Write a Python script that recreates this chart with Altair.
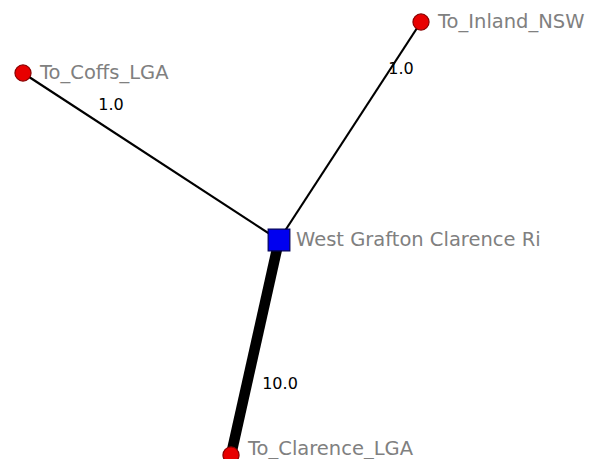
import altair as alt
import pandas as pd

# Network layout (layout coordinates, y grows downward)
node_names = ["To_Coffs_LGA", "To_Inland_NSW", "West Grafton Clarence Ri", "To_Clarence_LGA"]
node_x = [23, 421, 279, 231]
node_y = [73, 22, 240, 455]
node_kind = ["outlet", "outlet", "hub", "outlet"]

edge_source = ["West Grafton Clarence Ri", "West Grafton Clarence Ri", "West Grafton Clarence Ri"]
edge_target = ["To_Coffs_LGA", "To_Inland_NSW", "To_Clarence_LGA"]
edge_weight = [1.0, 1.0, 10.0]
edge_label_x = [111, 401, 280]
edge_label_y = [105, 69, 384]

pos = {n: (x, y) for n, x, y in zip(node_names, node_x, node_y)}
nodes = pd.DataFrame({"name": node_names, "x": node_x, "y": node_y, "kind": node_kind})
edges = pd.DataFrame({
    "x": [pos[s][0] for s in edge_source],
    "y": [pos[s][1] for s in edge_source],
    "x2": [pos[t][0] for t in edge_target],
    "y2": [pos[t][1] for t in edge_target],
    "weight": edge_weight,
    "lx": edge_label_x,
    "ly": edge_label_y,
    "label": [f"{w:.1f}" for w in edge_weight],
})

xs = alt.Scale(domain=[8, 595], nice=False, zero=False)
ys = alt.Scale(domain=[8, 459], nice=False, zero=False, reverse=True)
X = lambda f: alt.X(f, type="quantitative", scale=xs, axis=None)
Y = lambda f: alt.Y(f, type="quantitative", scale=ys, axis=None)

edge_lines = alt.Chart(edges).mark_rule(color="black", strokeCap="butt").encode(
    x=X("x"), y=Y("y"), x2="x2", y2="y2",
    strokeWidth=alt.StrokeWidth("weight:Q", scale=alt.Scale(domain=[1, 10], range=[2.2, 10.5]), legend=None),
)

edge_text = alt.Chart(edges).mark_text(
    font="DejaVu Sans", fontSize=16, color="black", align="center", baseline="middle"
).encode(x=X("lx"), y=Y("ly"), text="label:N")

outlets = alt.Chart(nodes).transform_filter("datum.kind == 'outlet'").mark_point(
    shape="circle", filled=True, size=260, fill="#e80000", stroke="#8a0000", strokeWidth=1.2, opacity=1
).encode(x=X("x"), y=Y("y"))

hub = alt.Chart(nodes).transform_filter("datum.kind == 'hub'").mark_point(
    shape="square", filled=True, size=470, fill="#0000f0", stroke="#00005a", strokeWidth=1.2, opacity=1
).encode(x=X("x"), y=Y("y"))

text_style = dict(font="DejaVu Sans", fontSize=19.5, color="#808080", align="left", baseline="middle", dx=17)

node_text = alt.Chart(nodes).transform_filter("datum.y < 400").mark_text(**text_style).encode(
    x=X("x"), y=Y("y"), text="name:N"
)
# label of the bottom node is nudged up so it stays inside the page
node_text_bottom = alt.Chart(nodes).transform_filter("datum.y >= 400").mark_text(
    **text_style, dy=-6
).encode(x=X("x"), y=Y("y"), text="name:N")

chart = alt.layer(edge_lines, edge_text, outlets, hub, node_text, node_text_bottom).properties(
    width=587, height=451, padding=0, background="white",
    autosize=alt.AutoSizeParams(type="none"),
).configure_view(stroke=None)

chart.save("out.html", embed_options={"renderer": "svg", "actions": False})
